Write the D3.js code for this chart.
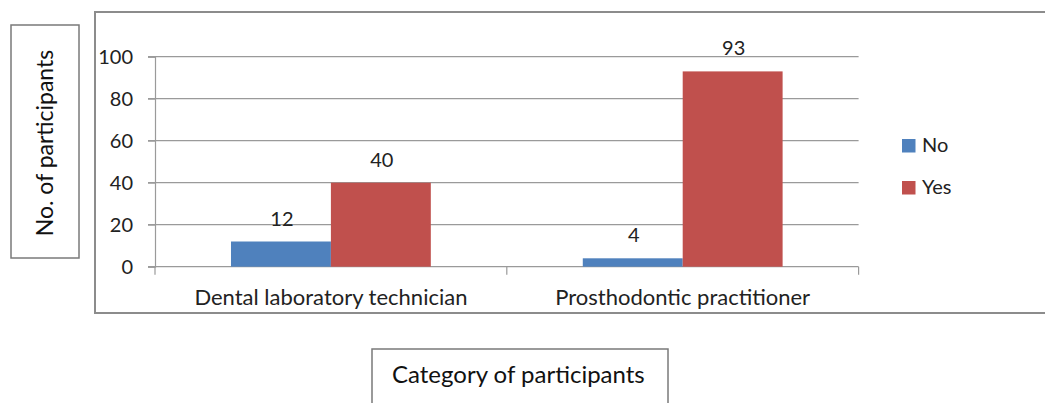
<!DOCTYPE html>
<html><head><meta charset="utf-8">
<script src="https://cdn.jsdelivr.net/npm/d3@7"></script>
<style>body{margin:0;background:#fff;}svg{display:block;font-family:Lato,"Open Sans",sans-serif;}</style>
</head><body>
<svg id="c" width="1045" height="403"></svg>
<script>
const categories = ["Dental laboratory technician", "Prosthodontic practitioner"];
const seriesNames = ["No", "Yes"];
const noValues = [12, 4];
const yesValues = [40, 93];
const yTicks = [0, 20, 40, 60, 80, 100];
const colors = ["#4F81BD", "#C0504D"];

const svg = d3.select("#c");
const x0 = 155, x1 = 858.6, yBase = 266.7, yTop = 56.7;

// outer chart frame
svg.append("rect").attr("x", 95).attr("y", 12).attr("width", 1000).attr("height", 301)
  .attr("fill", "none").attr("stroke", "#8c8c8c").attr("stroke-width", 2);

const y = d3.scaleLinear().domain([0, 100]).range([yBase, yTop]);
const xb = d3.scaleBand().domain(categories).range([x0, x1]).paddingInner(0.432).paddingOuter(0.216);
const xs = d3.scaleBand().domain(seriesNames).range([0, xb.bandwidth()]);

// gridlines
svg.append("g").selectAll("line").data(yTicks).join("line")
  .attr("x1", 148).attr("x2", x1).attr("y1", d => y(d)).attr("y2", d => y(d))
  .attr("stroke", "#9a9a9a").attr("stroke-width", 1.2);

// y axis
const yAxis = svg.append("g").attr("transform", `translate(${x0},0)`)
  .call(d3.axisLeft(y).tickValues(yTicks).tickSize(7).tickPadding(15));
yAxis.select(".domain").attr("stroke", "#9a9a9a").attr("stroke-width", 1.2);
yAxis.selectAll(".tick line").attr("stroke", "#9a9a9a");
yAxis.selectAll("text").attr("font-size", 20).attr("fill", "#222").attr("font-family", "Lato");

// x axis boundary ticks
const step = xb.step();
const bounds = [x0, x0 + step, x1];
svg.append("g").selectAll("line").data(bounds).join("line")
  .attr("x1", d => d).attr("x2", d => d).attr("y1", yBase).attr("y2", yBase + 8)
  .attr("stroke", "#9a9a9a").attr("stroke-width", 1.2);

// bars
const data = categories.map((c, i) => ({cat: c, vals: [
  {s: "No", v: noValues[i]}, {s: "Yes", v: yesValues[i]}]}));
const groups = svg.append("g").selectAll("g").data(data).join("g")
  .attr("transform", d => `translate(${xb(d.cat)},0)`);
groups.selectAll("rect").data(d => d.vals).join("rect")
  .attr("x", d => xs(d.s)).attr("width", xs.bandwidth())
  .attr("y", d => y(d.v)).attr("height", d => yBase - y(d.v))
  .attr("fill", (d, i) => colors[i]);
groups.selectAll("text").data(d => d.vals).join("text")
  .attr("x", d => xs(d.s) + xs.bandwidth() / 2 + 1).attr("y", d => y(d.v) - 16)
  .attr("text-anchor", "middle").attr("font-size", 20).attr("fill", "#222")
  .text(d => d.v);

// category labels
svg.append("g").selectAll("text").data(categories).join("text")
  .attr("x", d => xb(d) + xb.bandwidth() / 2).attr("y", 305)
  .attr("text-anchor", "middle").attr("font-size", 22).attr("fill", "#222")
  .text(d => d);

// legend
const leg = svg.append("g").selectAll("g").data(seriesNames).join("g")
  .attr("transform", (d, i) => `translate(902,${139 + i * 42})`);
leg.append("rect").attr("width", 13.5).attr("height", 13.5).attr("fill", (d, i) => colors[i]);
leg.append("text").attr("x", 20).attr("y", 13).attr("font-size", 20).attr("fill", "#222").text(d => d);

// y title box
svg.append("rect").attr("x", 11).attr("y", 25).attr("width", 68).attr("height", 233)
  .attr("fill", "#fff").attr("stroke", "#7a7a7a").attr("stroke-width", 1.5);
svg.append("text").attr("transform", "translate(53,143) rotate(-90)")
  .attr("text-anchor", "middle").attr("font-size", 23).attr("fill", "#111")
  .text("No.  of participants");

// x title box
svg.append("rect").attr("x", 372).attr("y", 349).attr("width", 296).attr("height", 70)
  .attr("fill", "#fff").attr("stroke", "#7a7a7a").attr("stroke-width", 1.5);
svg.append("text").attr("x", 392).attr("y", 383).attr("font-size", 24).attr("fill", "#111")
  .text("Category of participants");
</script>
</body></html>
